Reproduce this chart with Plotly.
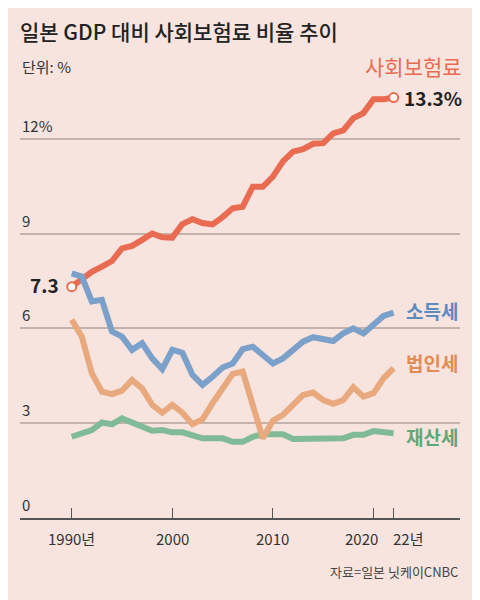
import plotly.graph_objects as go

years = list(range(1990, 2023))

social_ins = [7.32, 7.55, 7.79, 7.95, 8.13, 8.53, 8.61, 8.80, 9.00, 8.88,
              8.87, 9.30, 9.45, 9.33, 9.29, 9.52, 9.80, 9.85, 10.48, 10.48,
              10.80, 11.28, 11.59, 11.67, 11.84, 11.86, 12.17, 12.26, 12.65, 12.81,
              13.25, 13.25, 13.3]
income_tax = [7.74, 7.64, 6.85, 6.90, 5.90, 5.74, 5.32, 5.53, 5.05, 4.71,
              5.32, 5.23, 4.53, 4.21, 4.47, 4.76, 4.89, 5.34, 5.42, 5.16,
              4.89, 5.05, 5.32, 5.58, 5.72, 5.65, 5.60, 5.84, 6.00, 5.84,
              6.11, 6.39, 6.50]
corp_tax = [6.27, 5.74, 4.58, 4.00, 3.92, 4.03, 4.37, 4.10, 3.58, 3.33,
            3.58, 3.33, 2.97, 3.12, 3.63, 4.10, 4.56, 4.63, 3.63, 2.52,
            3.08, 3.26, 3.58, 3.89, 3.97, 3.73, 3.61, 3.73, 4.14, 3.84,
            3.95, 4.42, 4.74]
property_tax = [2.57, 2.68, 2.78, 3.02, 2.96, 3.15, 3.03, 2.89, 2.76, 2.78,
                2.71, 2.71, 2.63, 2.52, 2.52, 2.52, 2.41, 2.41, 2.57, 2.65,
                2.65, 2.65, 2.50, 2.50, 2.50, 2.51, 2.52, 2.52, 2.63, 2.63,
                2.75, 2.73, 2.68]

x_ticks = [1990, 2000, 2010, 2020, 2022]
x_labels = ["1990년", "2000", "2010", "2020", "22년"]
x_label_shift = [0, 0, 0, -12, 14]   # 2020 / 22년 nudged apart
y_ticks = [0, 3, 6, 9, 12]
y_labels = ["0", "3", "6", "9", "12%"]

RED = "#E96B52"
BLUE = "#7BA1CA"
ORANGE = "#E8A97E"
GREEN = "#80BA97"
BG = "#F7E4DE"
FONT = "Noto Sans CJK KR"
PLOT_H = 458  # plot area height in px

fig = go.Figure()
fig.add_trace(go.Scatter(x=years, y=social_ins, mode="lines",
                         line=dict(color=RED, width=6)))
fig.add_trace(go.Scatter(x=years, y=property_tax, mode="lines",
                         line=dict(color=GREEN, width=6)))
fig.add_trace(go.Scatter(x=years, y=corp_tax, mode="lines",
                         line=dict(color=ORANGE, width=6)))
fig.add_trace(go.Scatter(x=years, y=income_tax, mode="lines",
                         line=dict(color=BLUE, width=6)))
fig.add_trace(go.Scatter(x=[years[0], years[-1]], y=[social_ins[0], social_ins[-1]],
                         mode="markers",
                         marker=dict(color="white", size=9, line=dict(color=RED, width=2))))

# y tick labels sit just above their gridlines
for v, t in zip(y_ticks, y_labels):
    fig.add_annotation(x=0, xref="paper", y=v, yref="y", text=t, showarrow=False,
                       xanchor="left", yanchor="bottom", yshift=1,
                       font=dict(size=15, color="#333333", family=FONT))

# x tick labels
for v, t, s in zip(x_ticks, x_labels, x_label_shift):
    fig.add_annotation(x=v, y=-20 / PLOT_H, yref="paper", text=t, showarrow=False,
                       xanchor="center", yanchor="middle", xshift=s,
                       font=dict(size=15, color="#333333", family=FONT))

# series labels
fig.add_annotation(x=2022, y=1 - 6 / PLOT_H, yref="paper", text="사회보험료", showarrow=False,
                   xanchor="center", yanchor="middle", xshift=20,
                   font=dict(size=21, color=RED, family=FONT))
fig.add_annotation(x=years[-1], y=social_ins[-1], text="<b>13.3%</b>", showarrow=False,
                   xanchor="left", xshift=8, font=dict(size=19, color="#222222", family=FONT))
fig.add_annotation(x=years[0], y=social_ins[0], text="<b>7.3</b>", showarrow=False,
                   xanchor="right", xshift=-11, yshift=2,
                   font=dict(size=19, color="#222222", family=FONT))
fig.add_annotation(x=years[-1], y=income_tax[-1], text="<b>소득세</b>", showarrow=False,
                   xanchor="left", xshift=10, yshift=2, font=dict(size=19, color="#5C8BC0", family=FONT))
fig.add_annotation(x=years[-1], y=corp_tax[-1], text="<b>법인세</b>", showarrow=False,
                   xanchor="left", xshift=10, yshift=6, font=dict(size=19, color="#E38B54", family=FONT))
fig.add_annotation(x=years[-1], y=property_tax[-1], text="<b>재산세</b>", showarrow=False,
                   xanchor="left", xshift=10, yshift=-3, font=dict(size=19, color="#62A67C", family=FONT))

# unit and source
fig.add_annotation(x=0, xref="paper", y=1 - 6 / PLOT_H, yref="paper", text="단위: %",
                   showarrow=False, xanchor="left", yanchor="middle",
                   font=dict(size=15, color="#333333", family=FONT))
fig.add_annotation(x=1, xref="paper", y=-53 / PLOT_H, yref="paper", text="자료=일본 닛케이CNBC",
                   showarrow=False, xanchor="right", yanchor="middle",
                   font=dict(size=13, color="#444444", family=FONT))

# page has an 8px body margin, so the layout is laid out 8px up/left
fig.update_layout(
    title=dict(text="일본 GDP 대비 사회보험료 비율 추이", x=12 / 480, xanchor="left",
               y=1 - 25 / 600, yanchor="middle",
               font=dict(size=21, color="#222222", family=FONT, weight=500)),
    width=480, height=600,
    margin=dict(l=12, r=28, t=52, b=90),
    paper_bgcolor=BG, plot_bgcolor=BG,
    showlegend=False,
    font=dict(family=FONT),
)

fig.update_xaxes(range=[1984.86, 2028.6], tickvals=x_ticks, showticklabels=False,
                 ticks="inside", ticklen=10, tickwidth=1, tickcolor="#555555",
                 showline=True, linecolor="#555555", linewidth=1.5,
                 showgrid=False, zeroline=False)
fig.update_yaxes(range=[0, 14.49], tickvals=[3, 6, 9, 12], showticklabels=False,
                 showgrid=True, gridcolor="#C4B3AD", gridwidth=1.5,
                 zeroline=False, showline=False)

fig.write_html("out.html")
